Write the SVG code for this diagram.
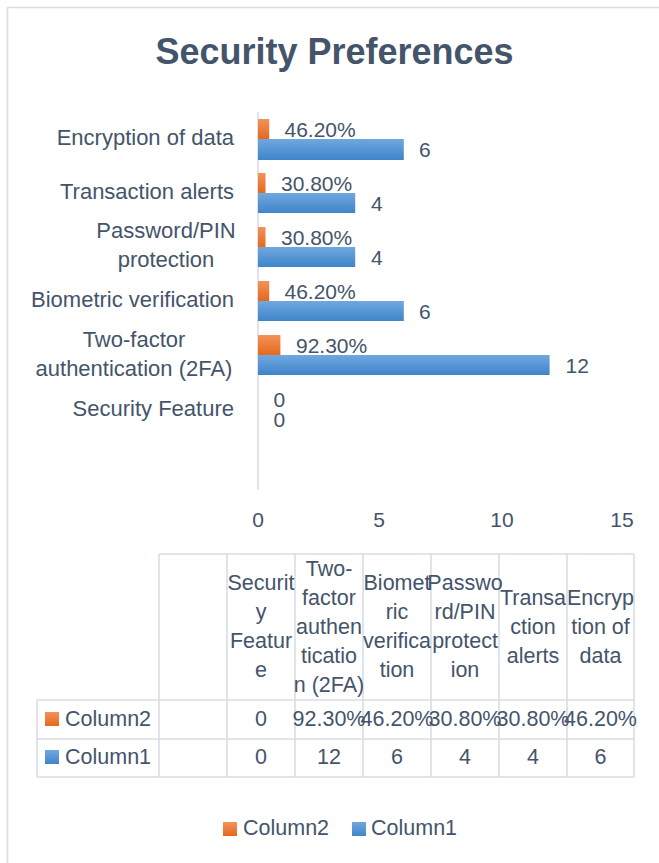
<svg xmlns="http://www.w3.org/2000/svg" width="659" height="863" viewBox="0 0 659 863">
<defs>
<linearGradient id="gOr" x1="0" y1="0" x2="0" y2="1"><stop offset="0" stop-color="#f3925a"/><stop offset="1" stop-color="#e4691c"/></linearGradient>
<linearGradient id="gBl" x1="0" y1="0" x2="0" y2="1"><stop offset="0" stop-color="#70a8df"/><stop offset="1" stop-color="#3f84ca"/></linearGradient>
<style>
text{font-family:"Liberation Sans",Arial,sans-serif;fill:#44546a;}
.t{font-size:36px;font-weight:bold;}
.c{font-size:22px;text-anchor:end;}
.cm{font-size:22px;text-anchor:middle;}
.d{font-size:21px;}
.x{font-size:21px;text-anchor:middle;}
.h{font-size:21.5px;text-anchor:middle;}
.r{font-size:21.5px;}
.ln{stroke:#d9dee5;stroke-width:1.6;fill:none;}
.or{fill:url(#gOr);}
.bl{fill:url(#gBl);}
</style>
</defs>
<rect width="659" height="863" fill="#ffffff"/>
<g id="frame"><path class="ln" d="M8,7.5H659M7.5,7V863" stroke-width="2"/></g>
<g id="title"><text class="t" x="334.5" y="64" text-anchor="middle" textLength="358" lengthAdjust="spacingAndGlyphs">Security Preferences</text></g>
<g id="axis">
<line class="ln" x1="258" y1="112" x2="258" y2="490"/>
<text class="x" x="258" y="527">0</text>
<text class="x" x="379" y="527">5</text>
<text class="x" x="502" y="527">10</text>
<text class="x" x="622" y="527">15</text>
</g>
<g id="categories">
<text class="c" x="234" y="145">Encryption of data</text>
<text class="c" x="234" y="199">Transaction alerts</text>
<text class="cm" x="166" y="238">Password/PIN</text>
<text class="cm" x="166" y="267">protection</text>
<text class="c" x="234" y="307">Biometric verification</text>
<text class="cm" x="134" y="347">Two-factor</text>
<text class="cm" x="134" y="376">authentication (2FA)</text>
<text class="c" x="234" y="416">Security Feature</text>
</g>
<g id="bars">
<rect class="or" x="258" y="119" width="11.2" height="20"/>
<rect class="bl" x="258" y="139" width="145.8" height="21"/>
<rect class="or" x="258" y="173" width="7.5" height="20"/>
<rect class="bl" x="258" y="193" width="97.2" height="20"/>
<rect class="or" x="258" y="227" width="7.5" height="20"/>
<rect class="bl" x="258" y="247" width="97.2" height="20"/>
<rect class="or" x="258" y="281" width="11.2" height="20"/>
<rect class="bl" x="258" y="301" width="145.8" height="20"/>
<rect class="or" x="258" y="335" width="22.4" height="20"/>
<rect class="bl" x="258" y="355" width="291.6" height="20"/>
</g>
<g id="data-labels">
<text class="d" x="284.5" y="137">46.20%</text>
<text class="d" x="419" y="157">6</text>
<text class="d" x="281" y="191">30.80%</text>
<text class="d" x="371" y="211">4</text>
<text class="d" x="281" y="245">30.80%</text>
<text class="d" x="371" y="265">4</text>
<text class="d" x="284.5" y="299">46.20%</text>
<text class="d" x="419" y="319">6</text>
<text class="d" x="296" y="353">92.30%</text>
<text class="d" x="565.5" y="373">12</text>
<text class="d" x="273.5" y="407">0</text>
<text class="d" x="273.5" y="427">0</text>
</g>
<g id="table">
<path class="ln" d="M159,554H634M37,700H634M37,739H634M37,777H634M37,700V777M159,554V777M227,554V777M295,554V777M363,554V777M431,554V777M499,554V777M567,554V777M634,554V777"/>
<text class="h" x="261" y="590">Securit</text>
<text class="h" x="261" y="619">y</text>
<text class="h" x="261" y="648">Featur</text>
<text class="h" x="261" y="677">e</text>
<text class="h" x="329" y="575.5">Two-</text>
<text class="h" x="329" y="604.5">factor</text>
<text class="h" x="329" y="633.5">authen</text>
<text class="h" x="329" y="662.5">ticatio</text>
<text class="h" x="329" y="691.5">n (2FA)</text>
<text class="h" x="397" y="590">Biomet</text>
<text class="h" x="397" y="619">ric</text>
<text class="h" x="397" y="648">verifica</text>
<text class="h" x="397" y="677">tion</text>
<text class="h" x="465" y="590">Passwo</text>
<text class="h" x="465" y="619">rd/PIN</text>
<text class="h" x="465" y="648">protect</text>
<text class="h" x="465" y="677">ion</text>
<text class="h" x="533" y="604.5">Transa</text>
<text class="h" x="533" y="633.5">ction</text>
<text class="h" x="533" y="662.5">alerts</text>
<text class="h" x="600.5" y="604.5">Encryp</text>
<text class="h" x="600.5" y="633.5">tion of</text>
<text class="h" x="600.5" y="662.5">data</text>
<rect class="or" x="45" y="712" width="14" height="14"/>
<text class="r" x="65" y="726">Column2</text>
<rect class="bl" x="45" y="750" width="14" height="14"/>
<text class="r" x="65" y="764">Column1</text>
<text class="h" x="261" y="726">0</text>
<text class="h" x="329" y="726">92.30%</text>
<text class="h" x="397" y="726">46.20%</text>
<text class="h" x="465" y="726">30.80%</text>
<text class="h" x="533" y="726">30.80%</text>
<text class="h" x="600.5" y="726">46.20%</text>
<text class="h" x="261" y="764">0</text>
<text class="h" x="329" y="764">12</text>
<text class="h" x="397" y="764">6</text>
<text class="h" x="465" y="764">4</text>
<text class="h" x="533" y="764">4</text>
<text class="h" x="600.5" y="764">6</text>
</g>
<g id="legend">
<rect class="or" x="223" y="822" width="14" height="14"/>
<text class="r" x="243" y="835">Column2</text>
<rect class="bl" x="352" y="822" width="14" height="14"/>
<text class="r" x="371" y="835">Column1</text>
</g>
</svg>
